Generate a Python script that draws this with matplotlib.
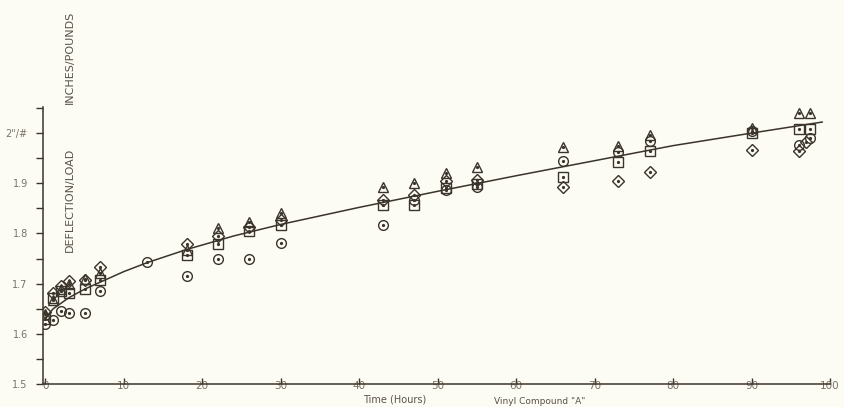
import matplotlib.pyplot as plt

# Time (hours) for each sample group
times = [0, 1, 2, 3, 5, 7, 18, 22, 26, 30, 43, 47, 51, 55, 66, 73, 77, 90, 96]

# Deflection/load readings, one list per specimen
circle = [1.620, 1.627, 1.645, 1.642, 1.642, 1.685, 1.715, 1.750, 1.750, 1.780,
          1.817, 1.867, 1.886, 1.893, 1.945, 1.962, 1.984, 2.004, 1.976]
square = [1.630, 1.672, 1.685, 1.682, 1.690, 1.708, 1.757, 1.778, 1.805, 1.817,
          1.857, 1.857, 1.890, 1.898, 1.912, 1.942, 1.964, 2.000, 2.008]
triangle = [1.640, 1.668, 1.690, 1.700, 1.710, 1.722, 1.767, 1.810, 1.823, 1.840,
            1.892, 1.900, 1.920, 1.932, 1.972, 1.974, 1.996, 2.010, 2.040]
diamond = [1.643, 1.682, 1.695, 1.705, 1.708, 1.733, 1.778, 1.795, 1.812, 1.826,
           1.866, 1.876, 1.904, 1.906, 1.892, 1.904, 1.922, 1.966, 1.964]

# extra readings near 97 h and the single one at 13 h
extra_t = [13, 97.5, 97.5, 97.5, 97]
extra_v = [1.743, 2.040, 2.008, 1.990, 1.982]
extra_m = ["o", "^", "s", "o", "D"]

# hand-drawn mean curve
curve_t = [0, 1, 3, 5, 7, 10, 13, 18, 24, 30, 40, 50, 60, 70, 80, 90, 99]
curve_v = [1.632, 1.650, 1.672, 1.689, 1.703, 1.724, 1.742, 1.768, 1.795, 1.818,
           1.852, 1.884, 1.915, 1.945, 1.975, 2.000, 2.022]

ink = "#3b342b"
grey = "#7a7366"
paper = "#fcfbf4"

fig = plt.figure(figsize=(8.44, 4.07), dpi=100, facecolor=paper)
ax = fig.add_axes([43 / 844, 1 - 384 / 407, (830 - 43) / 844, (384 - 107) / 407])
ax.set_facecolor(paper)

ax.plot(curve_t, curve_v, color=ink, linewidth=1.1, zorder=2)

marker_style = dict(linestyle="none", markerfacecolor="none", markeredgecolor=ink,
                    markeredgewidth=1.0, zorder=3)
ax.plot(times, circle, marker="o", markersize=7, **marker_style)
ax.plot(times, square, marker="s", markersize=6.5, **marker_style)
ax.plot(times, triangle, marker="^", markersize=7, **marker_style)
ax.plot(times, diamond, marker="D", markersize=6, **marker_style)
for t, v, m in zip(extra_t, extra_v, extra_m):
    ax.plot([t], [v], marker=m, markersize=7 if m != "D" else 6, **marker_style)

# centre dots
all_t = times * 4 + extra_t
all_v = circle + square + triangle + diamond + extra_v
ax.plot(all_t, all_v, linestyle="none", marker="o", markersize=1.3,
        color=ink, zorder=4)

ax.set_xlim(-0.3, 100)
ax.set_ylim(1.5, 2.052)

for s in ["top", "right"]:
    ax.spines[s].set_visible(False)
for s in ["left", "bottom"]:
    ax.spines[s].set_color(ink)
    ax.spines[s].set_linewidth(1.1)

ax.set_yticks([1.5, 1.6, 1.7, 1.8, 1.9, 2.0])
ax.set_yticklabels(["1.5", "1.6", "1.7", "1.8", "1.9", '2"/#'])
ax.set_yticks([1.55, 1.65, 1.75, 1.85, 1.95, 2.05], minor=True)
ax.tick_params(axis="y", which="both", direction="out", length=5, width=1,
               color=ink, labelsize=7, labelcolor=grey, pad=6)

ax.set_xticks(range(0, 101, 10))
ax.set_xticklabels([str(v) for v in range(0, 101, 10)])
ax.tick_params(axis="x", direction="in", length=4, width=1, color=ink,
               labelsize=7.5, labelcolor=grey, pad=-2)

fig.text(395 / 844, 1 - 399 / 407, "Time (Hours)", ha="center", va="center",
         fontsize=7, color="#5a5348")
fig.text(540 / 844, 1 - 401 / 407, 'Vinyl Compound "A"', ha="center", va="center",
         fontsize=6.5, color="#5a5348")
fig.text(70 / 844, 1 - 200 / 407, "DEFLECTION/LOAD", rotation=90, ha="center",
         va="center", fontsize=8, color="#5a5348")
fig.text(70 / 844, 1 - 57 / 407, "INCHES/POUNDS", rotation=90, ha="center",
         va="center", fontsize=8, color="#5a5348")

plt.savefig("out.png", dpi=100, facecolor=paper)
